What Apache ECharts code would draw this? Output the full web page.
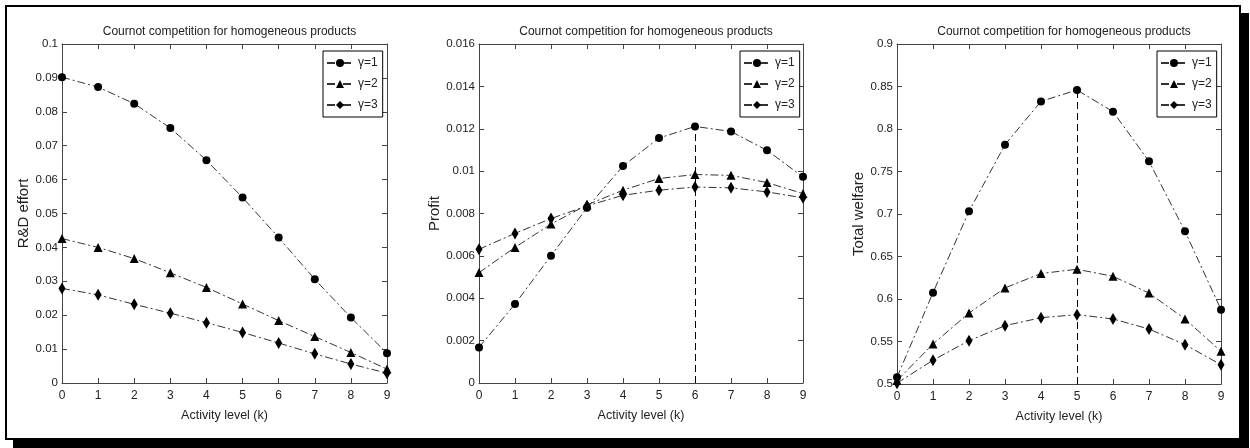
<!DOCTYPE html>
<html>
<head>
<meta charset="utf-8">
<script src="https://cdn.jsdelivr.net/npm/echarts@6/dist/echarts.min.js"></script>
<style>
  body { margin: 0; background: #fff; }
  #frame {
    position: absolute; left: 5px; top: 5px; width: 1232px; height: 431px;
    border: 2px solid #000; box-shadow: 8px 8px 0 #000; background: #fff;
  }
  #main { position: absolute; left: 0; top: 0; width: 1250px; height: 448px; }
</style>
</head>
<body>
<div id="frame"></div>
<div id="main"></div>
<script>
// activity level k
const kLevels = [0, 1, 2, 3, 4, 5, 6, 7, 8, 9]
const seriesNames = ['γ=1', 'γ=2', 'γ=3']

// R&D effort
const effortG1 = [0.0902, 0.0873, 0.0824, 0.0752, 0.0657, 0.0547, 0.0429, 0.0306, 0.0193, 0.0088]
const effortG2 = [0.0426, 0.0400, 0.0367, 0.0325, 0.0282, 0.0233, 0.0184, 0.0137, 0.0090, 0.0041]
const effortG3 = [0.0279, 0.0260, 0.0232, 0.0206, 0.0178, 0.0149, 0.0118, 0.0086, 0.0056, 0.0029]
// profit
const profitG1 = [0.00168, 0.00373, 0.00601, 0.00827, 0.01024, 0.01156, 0.01211, 0.01187, 0.01098, 0.00973]
const profitG2 = [0.00521, 0.00640, 0.00750, 0.00841, 0.00910, 0.00965, 0.00984, 0.00980, 0.00946, 0.00894]
const profitG3 = [0.00631, 0.00706, 0.00776, 0.00836, 0.00886, 0.00910, 0.00925, 0.00921, 0.00902, 0.00874]
// total welfare
const welfareG1 = [0.5078, 0.6075, 0.7031, 0.7816, 0.8325, 0.8459, 0.8204, 0.7620, 0.6796, 0.5875]
const welfareG2 = [0.5040, 0.5470, 0.5835, 0.6130, 0.6300, 0.6350, 0.6267, 0.6070, 0.5765, 0.5384]
const welfareG3 = [0.5010, 0.5280, 0.5510, 0.5686, 0.5780, 0.5816, 0.5765, 0.5647, 0.5463, 0.5227]

// tick labels
const effortTicks = [0, 0.01, 0.02, 0.03, 0.04, 0.05, 0.06, 0.07, 0.08, 0.09, 0.1]
const profitTicks = [0, 0.002, 0.004, 0.006, 0.008, 0.01, 0.012, 0.014, 0.016]
const welfareTicks = [0.5, 0.55, 0.6, 0.65, 0.7, 0.75, 0.8, 0.85, 0.9]

const chartTitle = 'Cournot competition for homogeneous products'
const xName = 'Activity level (k)'

const panels = [
  { yName: 'R&D effort', ticks: effortTicks, data: [effortG1, effortG2, effortG3], peak: false,
    grid: { left: 62, top: 44, width: 325, height: 339 }, nameGap: 23, legend: [323, 51] },
  { yName: 'Profit', ticks: profitTicks, data: [profitG1, profitG2, profitG3], peak: true,
    grid: { left: 479, top: 44, width: 324, height: 339 }, nameGap: 29, legend: [740, 51] },
  { yName: 'Total welfare', ticks: welfareTicks, data: [welfareG1, welfareG2, welfareG3], peak: true,
    grid: { left: 897, top: 44, width: 324, height: 340 }, nameGap: 26, legend: [1157, 51] },
]

const symbols = [
  { symbol: 'circle', size: 8 },
  { symbol: 'triangle', size: 9 },
  { symbol: 'diamond', size: [7, 12] },
]

const font = '"Liberation Sans", Arial, sans-serif'
const textColor = '#222'
const boxColor = '#444'

const option = {
  animation: false,
  textStyle: { fontFamily: font },
  title: [], grid: [], xAxis: [], yAxis: [], legend: [], series: [],
}

panels.forEach((p, i) => {
  const yMin = p.ticks[0]
  const yMax = p.ticks[p.ticks.length - 1]
  const yStep = p.ticks[1] - p.ticks[0]
  option.grid.push(p.grid)
  option.title.push({
    text: chartTitle,
    left: p.grid.left + p.grid.width / 2,
    top: 21,
    textAlign: 'center',
    textStyle: { fontSize: 12, fontWeight: 'normal', color: textColor, fontFamily: font },
  })
  const common = {
    gridIndex: i,
    axisLine: { onZero: false, lineStyle: { color: boxColor, width: 1 } },
    axisTick: { inside: true, length: 5, lineStyle: { color: boxColor } },
    splitLine: { show: false },
  }
  // bottom x axis
  option.xAxis.push({
    ...common, type: 'value', position: 'bottom',
    min: kLevels[0], max: kLevels[kLevels.length - 1], interval: 1,
    name: xName, nameLocation: 'middle', nameGap: 26,
    nameTextStyle: { fontSize: 12.5, color: textColor },
    axisLabel: { fontSize: 12, color: textColor, margin: 7 },
  })
  // top x axis (box)
  option.xAxis.push({
    ...common, type: 'value', position: 'top',
    min: kLevels[0], max: kLevels[kLevels.length - 1], interval: 1,
    axisLabel: { show: false },
  })
  option.yAxis.push({
    ...common, type: 'value', position: 'left',
    min: yMin, max: yMax, interval: yStep,
    name: p.yName, nameLocation: 'middle', nameGap: p.nameGap,
    nameTextStyle: { fontSize: 15, color: textColor },
    axisLabel: { fontSize: 11.5, color: textColor, margin: 4,
      formatter: v => String(parseFloat(v.toFixed(6))) },
  })
  option.yAxis.push({
    ...common, type: 'value', position: 'right',
    min: yMin, max: yMax, interval: yStep,
    axisLabel: { show: false },
  })
  option.legend.push({
    data: seriesNames,
    orient: 'vertical',
    left: p.legend[0], top: p.legend[1],
    itemWidth: 26, itemHeight: 10, itemGap: 9,
    padding: [6, 5, 6, 3],
    borderColor: '#000', borderWidth: 1, borderRadius: 0,
    backgroundColor: '#fff',
    textStyle: { fontSize: 12, color: textColor },
  })
  p.data.forEach((vals, j) => {
    const s = {
      name: seriesNames[j],
      type: 'line',
      xAxisIndex: i * 2,
      yAxisIndex: i * 2,
      data: kLevels.map((k, n) => [k, vals[n]]),
      symbol: symbols[j].symbol,
      symbolSize: symbols[j].size,
      showSymbol: true,
      itemStyle: { color: '#000' },
      lineStyle: { color: '#333', width: 1, type: [8, 3, 2, 3] },
      z: 3,
    }
    if (p.peak && j === 0) {
      // dashed drop line at the maximum of gamma=1
      const top = Math.max(...vals)
      const at = kLevels[vals.indexOf(top)]
      s.markLine = {
        silent: true, symbol: 'none', label: { show: false },
        lineStyle: { color: '#000', width: 1, type: [7, 4] },
        data: [[{ coord: [at, yMin] }, { coord: [at, top] }]],
      }
    }
    option.series.push(s)
  })
})

const chart = echarts.init(document.querySelector('#main'))
chart.setOption(option)
</script>
</body>
</html>
